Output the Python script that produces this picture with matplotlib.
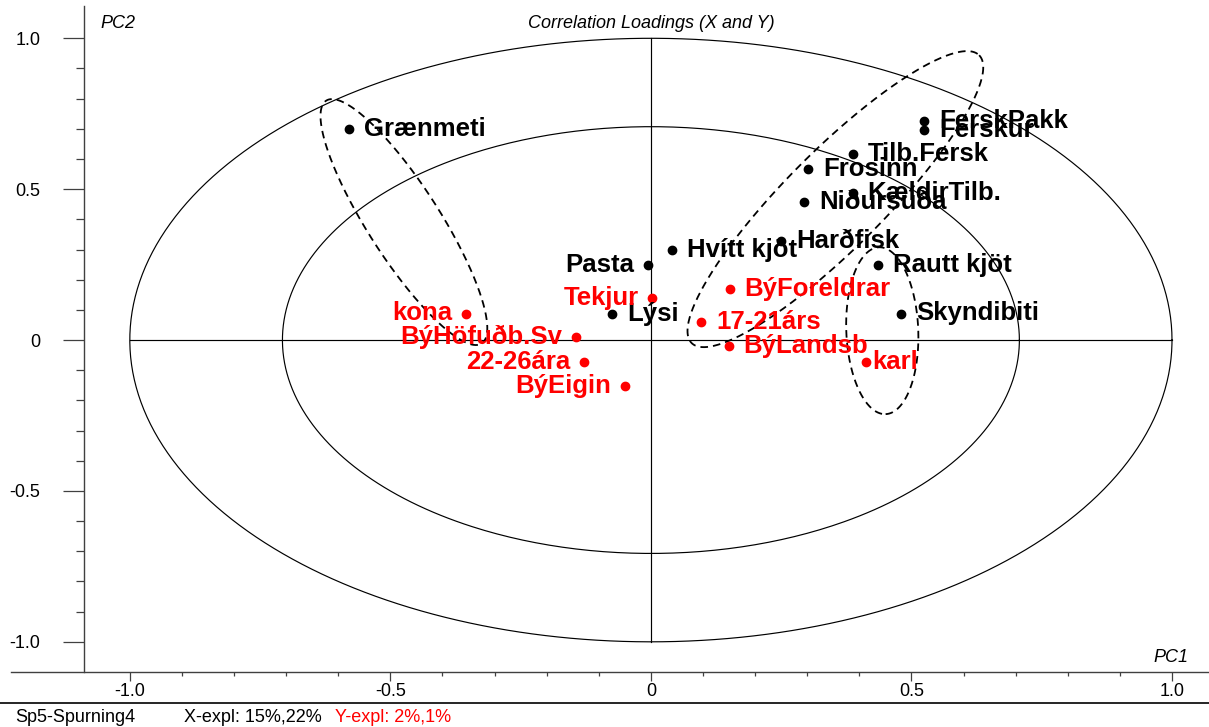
import numpy as np
import matplotlib.pyplot as plt
from matplotlib.ticker import FixedLocator

plt.rcParams['font.family'] = ['Liberation Sans', 'DejaVu Sans']

# X-loadings (black)
x_names = ['Grænmeti', 'FerskPakk', 'Ferskur', 'Tilb.Fersk', 'Frosinn', 'KældirTilb.',
           'Niðursuða', 'Harðfisk', 'Hvítt kjöt', 'Rautt kjöt', 'Skyndibiti', 'Pasta', 'Lýsi']
x_pc1 = [-0.579, 0.524, 0.524, 0.387, 0.301, 0.387, 0.294, 0.250, 0.041, 0.436, 0.480, -0.005, -0.074]
x_pc2 = [0.698, 0.727, 0.696, 0.616, 0.566, 0.488, 0.456, 0.329, 0.298, 0.248, 0.088, 0.249, 0.086]
x_side = ['r', 'r', 'r', 'r', 'r', 'r', 'r', 'r', 'r', 'r', 'r', 'l', 'r']

# Y-loadings (red)
y_names = ['Tekjur', 'kona', 'BýHöfuðb.Sv', '22-26ára', 'BýEigin',
           'BýForeldrar', '17-21árs', 'BýLandsb', 'karl']
y_pc1 = [0.003, -0.354, -0.143, -0.128, -0.049, 0.151, 0.096, 0.149, 0.412]
y_pc2 = [0.139, 0.088, 0.010, -0.073, -0.152, 0.168, 0.059, -0.020, -0.073]
y_side = ['l', 'l', 'l', 'l', 'l', 'r', 'r', 'r', 'rc']

# dashed group ellipses: centre, semi-major vector, semi-minor vector (data units)
ell_center = [(-0.474, 0.391), (0.354, 0.467), (0.444, 0.031)]
ell_major = [(0.1491, -0.4024), (0.2759, 0.4769), (0.0064, -0.2765)]
ell_minor = [(0.0582, 0.0644), (0.0664, -0.1148), (0.0690, 0.0048)]

major_ticks = [-1.0, -0.5, 0.0, 0.5, 1.0]
major_labels = ['-1.0', '-0.5', '0', '0.5', '1.0']
minor_ticks = [round(v, 1) for v in np.arange(-1.0, 1.01, 0.1)]

fig = plt.figure(figsize=(12.09, 7.27), dpi=100)
ax = fig.add_axes([11 / 1209, 1 - 672 / 727, 1198 / 1209, 666 / 727])
ax.set_xlim(-1.228, 1.071)
ax.set_ylim(-1.100, 1.107)

for s in ['top', 'right']:
    ax.spines[s].set_visible(False)
ax.spines['left'].set_position(('data', -1.088))
for s in ['left', 'bottom']:
    ax.spines[s].set_color('#404040')
    ax.spines[s].set_linewidth(1.0)

ax.xaxis.set_major_locator(FixedLocator(major_ticks))
ax.xaxis.set_minor_locator(FixedLocator(minor_ticks))
ax.yaxis.set_major_locator(FixedLocator(major_ticks))
ax.yaxis.set_minor_locator(FixedLocator(minor_ticks))
ax.set_xticklabels(major_labels)
ax.set_yticklabels(major_labels)
ax.tick_params(axis='x', which='major', length=6.2, width=0.9, color='#404040', labelsize=13, pad=1.5)
ax.tick_params(axis='x', which='minor', length=2.6, width=0.9, color='#404040')
ax.tick_params(axis='y', which='major', length=15, width=0.9, color='#404040', labelsize=13, pad=16.5)
ax.tick_params(axis='y', which='minor', length=5.8, width=0.9, color='#404040')

# correlation circles and cross lines
t = np.linspace(0, 2 * np.pi, 500)
for r in [1.0, np.sqrt(0.5)]:
    ax.plot(r * np.cos(t), r * np.sin(t), color='black', lw=0.85)
ax.plot([-1, 1], [0, 0], color='black', lw=0.85)
ax.plot([0, 0], [-1, 1], color='black', lw=0.85)

for (cx, cy), (ux, uy), (vx, vy) in zip(ell_center, ell_major, ell_minor):
    ax.plot(cx + ux * np.cos(t) + vx * np.sin(t), cy + uy * np.cos(t) + vy * np.sin(t),
            color='black', lw=1.3, ls=(0, (4.2, 2.8)))


def put_labels(names, xs, ys, sides, color):
    ax.plot(xs, ys, 'o', color=color, ms=6, zorder=4)
    for name, x, y, side in zip(names, xs, ys, sides):
        if side == 'l':
            off, ha = -10, 'right'
        elif side == 'rc':
            off, ha = 5, 'left'
        else:
            off, ha = 10.8, 'left'
        ax.annotate(name, (x, y), xytext=(off, -5), textcoords='offset points',
                    ha=ha, va='baseline', fontsize=18.5, fontweight='bold',
                    color=color, zorder=5)


put_labels(x_names, x_pc1, x_pc2, x_side, 'black')
put_labels(y_names, y_pc1, y_pc2, y_side, 'red')

fig.text(651 / 1209, 1 - 23 / 727, 'Correlation Loadings (X and Y)', ha='center', va='center',
         fontsize=13, style='italic')
fig.text(100 / 1209, 1 - 23 / 727, 'PC2', ha='left', va='center', fontsize=13, style='italic')
fig.text(1188 / 1209, 1 - 658 / 727, 'PC1', ha='right', va='center', fontsize=13, style='italic')

fig.add_artist(plt.Line2D([0, 1], [1 - 703 / 727] * 2, color='black', lw=1.2, transform=fig.transFigure))
fig.text(15 / 1209, 1 - 717 / 727, 'Sp5-Spurning4', ha='left', va='center', fontsize=13)
fig.text(184 / 1209, 1 - 717 / 727, 'X-expl: 15%,22%', ha='left', va='center', fontsize=13)
fig.text(335 / 1209, 1 - 717 / 727, 'Y-expl: 2%,1%', ha='left', va='center', fontsize=13, color='red')

fig.savefig('out.png', dpi=100)
